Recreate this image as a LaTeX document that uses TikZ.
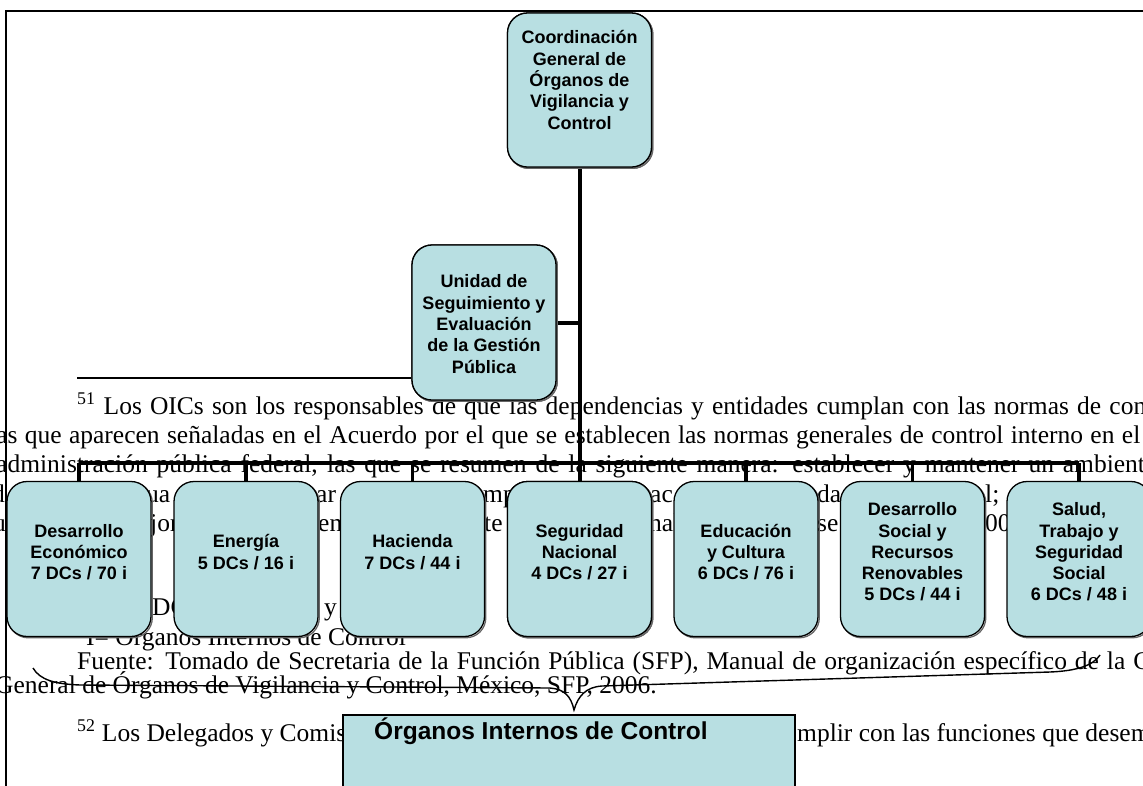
\documentclass[tikz,border=0pt]{standalone}
\usepackage{fontspec}
\setmainfont{Liberation Serif}
\newfontfamily\boxfont{Liberation Sans}
\definecolor{boxfill}{HTML}{B8DFE2}
\begin{document}
\begin{tikzpicture}[x=1pt,y=-1pt,
  orgbox/.style={draw=black, line width=1.3pt, fill=boxfill, rounded corners=20pt, minimum width=144pt, minimum height=154pt, inner sep=0pt,
    preaction={draw=black!60, line width=1.3pt, transform canvas={shift={(1.3pt,-1.3pt)}}}},
  lowbox/.style={orgbox, minimum height=155pt},
  oicbox/.style={draw=black, line width=1.3pt, fill=boxfill, minimum width=452pt, minimum height=90pt, inner sep=0pt},
  boxtext/.style={font=\boxfont\bfseries\fontsize{18}{21.3}\selectfont, align=center, inner sep=0pt},
  oictext/.style={font=\boxfont\bfseries\fontsize{24.5}{28}\selectfont, anchor=west, inner sep=0pt},
  fnote/.style={font=\fontsize{25.5}{28.5}\selectfont, anchor=base west, inner sep=0pt},
  framerule/.style={line width=2pt, black},
  trunk/.style={line width=4pt, black},
  dropline/.style={line width=3.5pt, black},
  seprule/.style={line width=2pt, black},
  bracecurve/.style={line width=1.4pt, black}]
\useasboundingbox (0,0) rectangle (1143,785);
\clip (0,0) rectangle (1143,785);

% footnote text lying under the chart
\node[fnote] (l1) at (77,414) {\makebox[1069pt][s]{\textsuperscript{51} Los OICs son los responsables de que las dependencias y entidades cumplan con las normas de con}};
\node[fnote] (l2) at (-11,443) {\makebox[1151pt][s]{las que aparecen señaladas en el Acuerdo por el que se establecen las normas generales de control interno en el}};
\node[fnote] (l3) at (-4,472) {\makebox[1160pt][s]{administración pública federal, las que se resumen de la siguiente manera: establecer y mantener un ambiente}};
\node[fnote] (l4a) at (-8,502) {d};
\node[fnote] (l4b) at (146,502) {ua};
\node[fnote] (l4c) at (316,502) {ar};
\node[fnote] (l4d) at (483,502) {mp};
\node[fnote] (l4e) at (650,502) {ac};
\node[fnote] (l4f) at (817,502) {da};
\node[fnote] (l4g) at (985,502) {l;};
\node[fnote] (l5a) at (-7,531) {u};
\node[fnote] (l5b) at (150,531) {jor};
\node[fnote] (l5c) at (318,531) {ent};
\node[fnote] (l5d) at (484,531) {te};
\node[fnote] (l5e) at (649,531) {nal};
\node[fnote] (l5f) at (817,531) {se};
\node[fnote] (l5g) at (985,531) {00};
\node[fnote] (l7a) at (152,615) {DC};
\node[fnote] (l7b) at (324,615) {y};
\node[fnote] (l8) at (86,645) {I= Órganos Internos de Control};
\node[fnote] (l9) at (77,669) {\makebox[1073pt][s]{Fuente: Tomado de Secretaria de la Función Pública (SFP), Manual de organización específico de la C}};
\node[fnote] (l10) at (-5,693) {General de Órganos de Vigilancia y Control, México, SFP, 2006.};
\node[fnote] (l11a) at (77,741) {\textsuperscript{52} Los Delegados y Comis};
\node[fnote] (l11b) at (797,741) {mplir con las funciones que desem};

% frame
\coordinate (ftl) at (6,11);
\coordinate (ftr) at (1150,11);
\coordinate (fbl) at (6,790);
\draw[framerule] (ftr) -- (ftl) -- (fbl);

% boxes
\node[orgbox] (coord) at (579.5,90) {};
\node[orgbox, minimum height=155pt] (unidad) at (484,322.5) {};
\node[lowbox] (b1) at (79,559) {};
\node[lowbox] (b2) at (246,559) {};
\node[lowbox] (b3) at (412.5,559) {};
\node[lowbox] (b4) at (579.5,559) {};
\node[lowbox] (b5) at (746,559) {};
\node[lowbox] (b6) at (912.5,559) {};
\node[lowbox] (b7) at (1079,559) {};

% connectors
\coordinate (bus) at (0,463);
\coordinate (sepL) at (77,378);
\draw[seprule] (sepL) -- (sepL -| unidad.west);
\draw[trunk] (coord.south) -- (coord.south |- b4.north);
\draw[trunk] (unidad.east) -- (unidad.east -| coord.south);
\draw[trunk] (b1.north |- bus) -- (b7.north |- bus);
\foreach \b in {b1,b2,b3,b5,b6,b7}{
  \draw[dropline] (\b.north |- bus) -- (\b.north);
}

% redraw boxes on top of connector ends
\node[orgbox] (coordF) at (coord) {};
\node[orgbox, minimum height=155pt] (unidadF) at (unidad) {};
\node[lowbox] (b4F) at (b4) {};

% box texts
\node[boxtext] (coordtxt) at (579.5,80) {Coordinación\\General de\\Órganos de\\Vigilancia y\\Control};
\node[boxtext] (unidadtxt) at (484,324) {Unidad de\\Seguimiento y\\Evaluación\\de la Gestión\\Pública};
\node[boxtext] (t1) at (79,552) {Desarrollo\\Económico\\7 DCs / 70 i};
\node[boxtext] (t2) at (246,552) {Energía\\5 DCs / 16 i};
\node[boxtext] (t3) at (412.5,552) {Hacienda\\7 DCs / 44 i};
\node[boxtext] (t4) at (579.5,552) {Seguridad\\Nacional\\4 DCs / 27 i};
\node[boxtext] (t5) at (746,552) {Educación\\y Cultura\\6 DCs / 76 i};
\node[boxtext] (t6) at (912.5,552) {Desarrollo\\Social y\\Recursos\\Renovables\\5 DCs / 44 i};
\node[boxtext] (t7) at (1079,552) {Salud,\\Trabajo y\\Seguridad\\Social\\6 DCs / 48 i};

% brace
\coordinate (brL) at (33,668);
\coordinate (brT) at (574,710);
\coordinate (brR) at (1100,655);
\draw[bracecurve] (brL) .. controls (40,680) and (55,684) .. (80,685) -- (550,688)
  .. controls (564,689) and (571,696) .. (brT)
  .. controls (578,696) and (586,687) .. (602,686) -- (1050,672)
  .. controls (1075,671) and (1093,666) .. (brR);

% OIC box
\node[oicbox] (oic) at (569,760) {};
\node[oictext] (oictxt) at (374,731) {Órganos Internos de Control};
\end{tikzpicture}
\end{document}
